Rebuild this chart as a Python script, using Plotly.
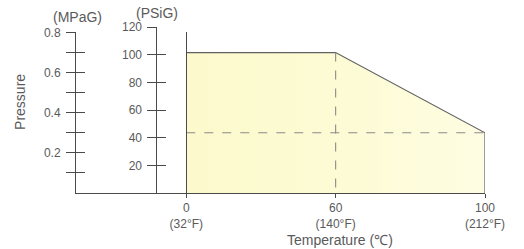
import plotly.graph_objects as go

# ---- data ----
temps_c = [0, 60, 100]
temps_f = [32, 140, 212]
rating_mpa = [0.7, 0.7, 0.3]           # max working pressure (MPaG)
PSI_PER_MPA = 145.04
mpa_ticks = [0.1, 0.2, 0.3, 0.4, 0.5, 0.6, 0.7, 0.8]
mpa_labels = ["", "0.2", "", "0.4", "", "0.6", "", "0.8"]
psi_ticks = [20, 40, 60, 80, 100, 120]
psi_labels = ["20", "40", "60", "80", "100", "120"]

cats = [f"{c}<br>({f}°F)" for c, f in zip(temps_c, temps_f)]
rating_psi = [v * PSI_PER_MPA for v in rating_mpa]
psi_max = 120
mpa_max = 0.8

# ---- layout geometry ----
xmin, xmax = -0.745, 2.0
def xfrac(idx):
    return (idx - xmin) / (xmax - xmin)

AX = "#4a4a4a"
TXT = "#5a5a5a"
FONT = "Liberation Sans"
CLEAR = "rgba(0,0,0,0)"

fig = go.Figure()

# empty helper traces so that the extra axes get drawn
for ax in ["y2", "y3", "y4", "y5"]:
    fig.add_trace(go.Scatter(x=cats, y=[None] * len(cats), yaxis=ax, mode="lines",
                             hoverinfo="skip", showlegend=False))

# filled rating region
fig.add_trace(go.Scatter(
    x=cats + [cats[-1]], y=rating_psi + [0],
    mode="lines", line=dict(color="#606060", width=1.2),
    fill="tozeroy",
    fillgradient=dict(type="horizontal",
                      colorscale=[[0, "#fcf9cc"], [0.5, "#fdfbd4"], [1, "#fefde2"]]),
    hoverinfo="skip", showlegend=False, cliponaxis=False))

# dashed guides
fig.add_trace(go.Scatter(
    x=[cats[1], cats[1]], y=[rating_psi[1], 0], mode="lines",
    line=dict(color="#8a8a8a", width=1.1, dash="dash"),
    hoverinfo="skip", showlegend=False))
fig.add_trace(go.Scatter(
    x=[cats[0], cats[-1]], y=[rating_psi[-1], rating_psi[-1]], mode="lines",
    line=dict(color="#8a8a8a", width=1.1, dash="dash"),
    hoverinfo="skip", showlegend=False))

mpa_dom_top = mpa_max * PSI_PER_MPA / psi_max
psi_pos = xfrac(-0.2)
zero_pos = xfrac(0)

common_y = dict(showgrid=False, zeroline=False, showline=True, linecolor=AX,
                linewidth=1, tickcolor=AX, tickwidth=1, automargin=False,
                tickfont=dict(family=FONT, size=12, color=TXT))

def note(text, x, y, size=13, angle=0):
    return dict(text=text, x=x, y=y, xref="paper", yref="paper",
                xanchor="center", yanchor="middle", textangle=angle,
                showarrow=False, font=dict(family=FONT, size=size, color=TXT))

fig.update_layout(
    width=524, height=249,
    margin=dict(l=75, r=39, t=27, b=56),
    paper_bgcolor="white", plot_bgcolor=CLEAR,
    xaxis=dict(type="category", categoryarray=cats, range=[xmin, xmax],
               showgrid=False, zeroline=False, showline=True, linecolor=AX,
               ticks="outside", ticklen=4, tickcolor=AX, automargin=False,
               tickfont=dict(family=FONT, size=12, color=TXT),
               anchor="y"),
    yaxis=dict(range=[0, psi_max], domain=[0, 1], anchor="free",
               position=psi_pos, tickvals=psi_ticks, ticktext=psi_labels,
               ticks="outside", ticklen=9, ticklabelstandoff=3, **common_y),
    yaxis4=dict(range=[0, psi_max], overlaying="y", anchor="free",
                position=psi_pos, tickvals=psi_ticks, showticklabels=False,
                ticks="inside", ticklen=9, **common_y),
    yaxis2=dict(range=[0, mpa_max], domain=[0, mpa_dom_top], anchor="free",
                position=0, tickvals=mpa_ticks, ticktext=mpa_labels,
                ticks="outside", ticklen=9, ticklabelstandoff=3, **common_y),
    yaxis5=dict(range=[0, mpa_max], overlaying="y2", anchor="free",
                position=0, tickvals=mpa_ticks, showticklabels=False,
                ticks="inside", ticklen=9, **common_y),
    yaxis3=dict(range=[0, mpa_max], overlaying="y2", anchor="free",
                position=zero_pos, showticklabels=False, ticks="", **common_y),
    annotations=[
        note("Pressure", -0.134, 0.549, size=14, angle=-90),
        note("Temperature (℃)", 0.646, -0.283, size=14),
        note("(MPaG)", 0.005, 1.06, size=14),
        note("(PSiG)", psi_pos + 0.002, 1.085, size=14),
    ],
)

fig.write_html("out.html", config={"displayModeBar": False},
               post_script="document.body.style.margin='0px';")
